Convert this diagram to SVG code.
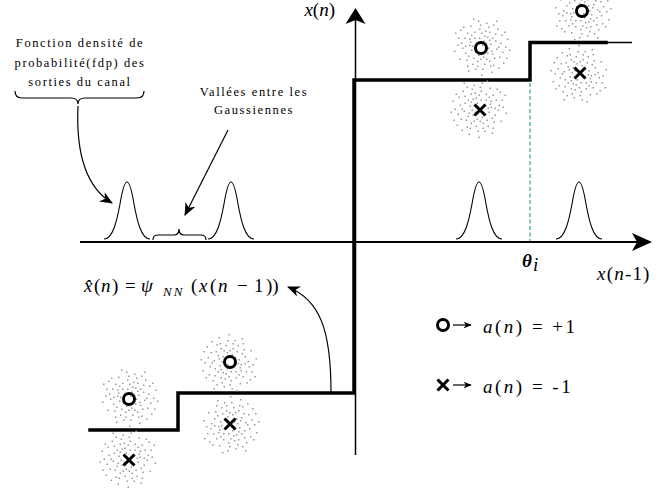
<svg xmlns="http://www.w3.org/2000/svg" xmlns:xlink="http://www.w3.org/1999/xlink" width="672" height="488" viewBox="0 0 672 488">
<style>
.lbl{font-family:"Liberation Serif","Times New Roman",serif;font-size:12.5px;letter-spacing:1.6px;fill:#000}
.math{font-family:"Liberation Serif","Times New Roman",serif;font-size:19px;fill:#000}
.it{font-style:italic}
.thin{stroke:#000;stroke-width:1.2;fill:none}
.step{stroke:#000;stroke-width:3.5;fill:none;stroke-linejoin:miter;stroke-linecap:square}
.o{fill:none;stroke:#000;stroke-width:3}
.x{stroke:#000;stroke-width:3}
.dot{fill:#9a9a9a}
</style>
<defs>
<marker id="ah" viewBox="0 0 12 10" refX="11" refY="5" markerWidth="13" markerHeight="11" markerUnits="userSpaceOnUse" orient="auto"><path d="M0,0 L12,5 L0,10 L3.5,5 z" fill="#000"/></marker>
<marker id="ahs" viewBox="0 0 12 10" refX="11" refY="5" markerWidth="8" markerHeight="7" markerUnits="userSpaceOnUse" orient="auto"><path d="M0,0 L12,5 L0,10 L3.5,5 z" fill="#000"/></marker>
<path id="gauss" d="M-23,239 C-14,239 -10,220 -7,204 C-5,192 -3,182 0,182 C3,182 5,192 7,204 C10,220 14,239 23,239" fill="none" stroke="#000" stroke-width="1.1"/>
<g id="cloud" class="dot">
<rect x="-3" y="-8" width="1.5" height="1.5"/><rect x="5" y="-12" width="1.5" height="1.5"/><rect x="10" y="-4" width="1.5" height="1.5"/><rect x="-12" y="2" width="1.5" height="1.5"/><rect x="-7" y="9" width="1.5" height="1.5"/><rect x="3" y="11" width="1.5" height="1.5"/><rect x="14" y="6" width="1.5" height="1.5"/><rect x="-16" y="-6" width="1.5" height="1.5"/><rect x="8" y="15" width="1.5" height="1.5"/><rect x="-2" y="18" width="1.5" height="1.5"/><rect x="18" y="-10" width="1.5" height="1.5"/><rect x="-20" y="4" width="1.5" height="1.5"/><rect x="12" y="-18" width="1.5" height="1.5"/><rect x="-9" y="-17" width="1.5" height="1.5"/><rect x="20" y="12" width="1.5" height="1.5"/><rect x="-14" y="14" width="1.5" height="1.5"/><rect x="1" y="-22" width="1.5" height="1.5"/><rect x="-22" y="-12" width="1.5" height="1.5"/><rect x="24" y="0" width="1.5" height="1.5"/><rect x="6" y="-6" width="1.5" height="1.5"/><rect x="-5" y="4" width="1.5" height="1.5"/><rect x="9" y="3" width="1.5" height="1.5"/><rect x="-10" y="-3" width="1.5" height="1.5"/><rect x="2" y="6" width="1.5" height="1.5"/><rect x="-4" y="-14" width="1.5" height="1.5"/><rect x="15" y="-2" width="1.5" height="1.5"/><rect x="-17" y="9" width="1.5" height="1.5"/><rect x="7" y="20" width="1.5" height="1.5"/><rect x="-11" y="21" width="1.5" height="1.5"/><rect x="22" y="-16" width="1.5" height="1.5"/><rect x="-24" y="2" width="1.5" height="1.5"/><rect x="16" y="18" width="1.5" height="1.5"/><rect x="-6" y="-22" width="1.5" height="1.5"/><rect x="11" y="9" width="1.5" height="1.5"/><rect x="-13" y="-9" width="1.5" height="1.5"/><rect x="4" y="-3" width="1.5" height="1.5"/><rect x="-8" y="-11" width="1.5" height="1.5"/><rect x="13" y="-11" width="1.5" height="1.5"/><rect x="-15" y="-13" width="1.5" height="1.5"/><rect x="0" y="14" width="1.5" height="1.5"/><rect x="19" y="4" width="1.5" height="1.5"/><rect x="-19" y="-1" width="1.5" height="1.5"/><rect x="5" y="24" width="1.5" height="1.5"/><rect x="-3" y="26" width="1.5" height="1.5"/><rect x="26" y="8" width="1.5" height="1.5"/><rect x="-27" y="-4" width="1.5" height="1.5"/><rect x="10" y="-25" width="1.5" height="1.5"/><rect x="-13" y="-24" width="1.5" height="1.5"/><rect x="17" y="-21" width="1.5" height="1.5"/><rect x="-21" y="17" width="1.5" height="1.5"/><rect x="3" y="-17" width="1.5" height="1.5"/><rect x="-7" y="15" width="1.5" height="1.5"/><rect x="8" y="-14" width="1.5" height="1.5"/><rect x="-12" y="8" width="1.5" height="1.5"/><rect x="14" y="13" width="1.5" height="1.5"/><rect x="-18" y="20" width="1.5" height="1.5"/><rect x="21" y="-5" width="1.5" height="1.5"/><rect x="-2" y="9" width="1.5" height="1.5"/><rect x="6" y="10" width="1.5" height="1.5"/><rect x="-9" y="1" width="1.5" height="1.5"/><rect x="11" y="-7" width="1.5" height="1.5"/><rect x="-4" y="-19" width="1.5" height="1.5"/><rect x="2" y="-10" width="1.5" height="1.5"/><rect x="-16" y="1" width="1.5" height="1.5"/><rect x="17" y="0" width="1.5" height="1.5"/><rect x="9" y="-19" width="1.5" height="1.5"/><rect x="-10" y="12" width="1.5" height="1.5"/><rect x="12" y="22" width="1.5" height="1.5"/><rect x="-23" y="9" width="1.5" height="1.5"/><rect x="25" y="-11" width="1.5" height="1.5"/><rect x="-1" y="22" width="1.5" height="1.5"/><rect x="4" y="16" width="1.5" height="1.5"/><rect x="-14" y="-19" width="1.5" height="1.5"/><rect x="23" y="15" width="1.5" height="1.5"/><rect x="-26" y="14" width="1.5" height="1.5"/><rect x="15" y="26" width="1.5" height="1.5"/><rect x="-8" y="28" width="1.5" height="1.5"/><rect x="28" y="-3" width="1.5" height="1.5"/><rect x="0" y="-28" width="1.5" height="1.5"/><rect x="-11" y="5" width="1.5" height="1.5"/><rect x="7" y="-1" width="1.5" height="1.5"/><rect x="-6" y="-5" width="1.5" height="1.5"/><rect x="1" y="2" width="1.5" height="1.5"/><rect x="-1" y="-12" width="1.5" height="1.5"/><rect x="8" y="7" width="1.5" height="1.5"/>
</g>
</defs>

<!-- axes -->
<g id="axes">
<line x1="80" y1="242" x2="640" y2="242" stroke="#000" stroke-width="2"/>
<polygon points="652,242 632,233 637,242 632,251" fill="#000"/>
<line x1="355.5" y1="20" x2="355.5" y2="455" stroke="#000" stroke-width="1.5"/>
<polygon points="355.5,8 365.5,24 355.5,20 345.5,24" fill="#000"/>
<text class="math" x="335" y="16" text-anchor="end"><tspan class="it">x</tspan>(<tspan class="it">n</tspan>)</text>
<text class="math" x="597" y="280" letter-spacing="1.2"><tspan class="it">x</tspan>(<tspan class="it">n</tspan>-1)</text>
<text class="math" x="522" y="267" font-size="20" font-weight="bold" font-style="italic">θ</text>
<text class="math" x="533" y="271" font-size="11" font-style="italic">i</text>
</g>

<!-- threshold -->
<line id="threshold" x1="530" y1="44" x2="530" y2="241" stroke="#4fa3a6" stroke-width="1.3" stroke-dasharray="4,2.5"/>

<!-- decision function -->
<g id="decision">
<polyline class="step" points="606,42.5 530,42.5 530,80 354,80 354,393 178,393 178,430 90,430"/>
<line x1="606" y1="42.5" x2="632" y2="42.5" stroke="#000" stroke-width="1.5"/>
</g>

<!-- gaussians -->
<g id="pdfs">
<use xlink:href="#gauss" href="#gauss" transform="translate(127,0)"/>
<use xlink:href="#gauss" href="#gauss" transform="translate(231,0)"/>
<use xlink:href="#gauss" href="#gauss" transform="translate(479,0)"/>
<use xlink:href="#gauss" href="#gauss" transform="translate(579,0)"/>
</g>

<!-- clusters -->
<g id="c1o"><use href="#cloud" transform="translate(582,11)"/><circle class="o" cx="582" cy="11" r="5.5"/></g>
<g id="c1x"><use href="#cloud" transform="translate(580,73) scale(-1,1)"/><path class="x" d="M574.5,67.5 L585.5,78.5 M585.5,67.5 L574.5,78.5"/></g>
<g id="c2o"><use href="#cloud" transform="translate(481,48) scale(1,-1)"/><circle class="o" cx="481" cy="48" r="5.5"/></g>
<g id="c2x"><use href="#cloud" transform="translate(480,110) scale(-1,-1)"/><path class="x" d="M474.5,104.5 L485.5,115.5 M485.5,104.5 L474.5,115.5"/></g>
<g id="c3o"><use href="#cloud" transform="translate(230,362) scale(-1,1)"/><circle class="o" cx="230" cy="362" r="5.5"/></g>
<g id="c3x"><use href="#cloud" transform="translate(230,424)"/><path class="x" d="M224.5,418.5 L235.5,429.5 M235.5,418.5 L224.5,429.5"/></g>
<g id="c4o"><use href="#cloud" transform="translate(129,399) scale(1,-1)"/><circle class="o" cx="129" cy="399" r="5.5"/></g>
<g id="c4x"><use href="#cloud" transform="translate(129,460) scale(-1,-1)"/><path class="x" d="M123.5,454.5 L134.5,465.5 M134.5,454.5 L123.5,465.5"/></g>

<!-- annotations -->
<g id="note-fdp">
<text class="lbl" text-anchor="middle"><tspan x="80" y="47">Fonction densité de</tspan><tspan x="80" y="67">probabilité(fdp) des</tspan><tspan x="80" y="86">sorties du canal</tspan></text>
<path class="thin" d="M15,91 Q15,98 22,98 L71,98 Q78,98 78,104 Q78,98 85,98 L137,98 Q144,98 144,91"/>
</g>
<g id="note-vallees">
<text class="lbl" text-anchor="middle"><tspan x="254" y="96">Vallées entre les</tspan><tspan x="254" y="114">Gaussiennes</tspan></text>
<path class="thin" d="M153,240 Q153,235 158,235 L174,235 Q179,235 179,229 Q179,235 184,235 L201,235 Q206,235 206,240"/>
</g>
<g id="note-formula">
<text class="math" y="292"><tspan class="it" x="84">x̂</tspan><tspan x="94">(</tspan><tspan class="it" x="101">n</tspan><tspan x="112">)</tspan><tspan x="125">=</tspan><tspan class="it" x="141">ψ</tspan><tspan class="it" x="163" y="296" font-size="13" letter-spacing="2">NN</tspan><tspan x="191" y="292">(</tspan><tspan class="it" x="199">x</tspan><tspan x="210">(</tspan><tspan class="it" x="218">n</tspan><tspan x="237">−</tspan><tspan x="254">1</tspan><tspan x="266">))</tspan></text>
</g>
<g id="legend">
<circle class="o" cx="443" cy="325" r="5.5"/>
<line x1="453" y1="325" x2="471" y2="325" stroke="#000" stroke-width="1.2" marker-end="url(#ahs)"/>
<text class="math" x="483" y="333" letter-spacing="2.5"><tspan class="it">a</tspan>(<tspan class="it">n</tspan>) = +1</text>
<path class="x" d="M437.5,379.5 L448.5,390.5 M448.5,379.5 L437.5,390.5"/>
<line x1="453" y1="385" x2="471" y2="385" stroke="#000" stroke-width="1.2" marker-end="url(#ahs)"/>
<text class="math" x="483" y="393" letter-spacing="2.5"><tspan class="it">a</tspan>(<tspan class="it">n</tspan>) = -1</text>
</g>

<!-- connectors -->
<g id="connectors">
<path class="thin" d="M78,106 C76,150 84,186 112,203" marker-end="url(#ah)"/>
<path class="thin" d="M228,130 L185,215" marker-end="url(#ah)"/>
<path class="thin" d="M331,392 C331,330 320,300 288,287" marker-end="url(#ah)"/>
</g>
</svg>
